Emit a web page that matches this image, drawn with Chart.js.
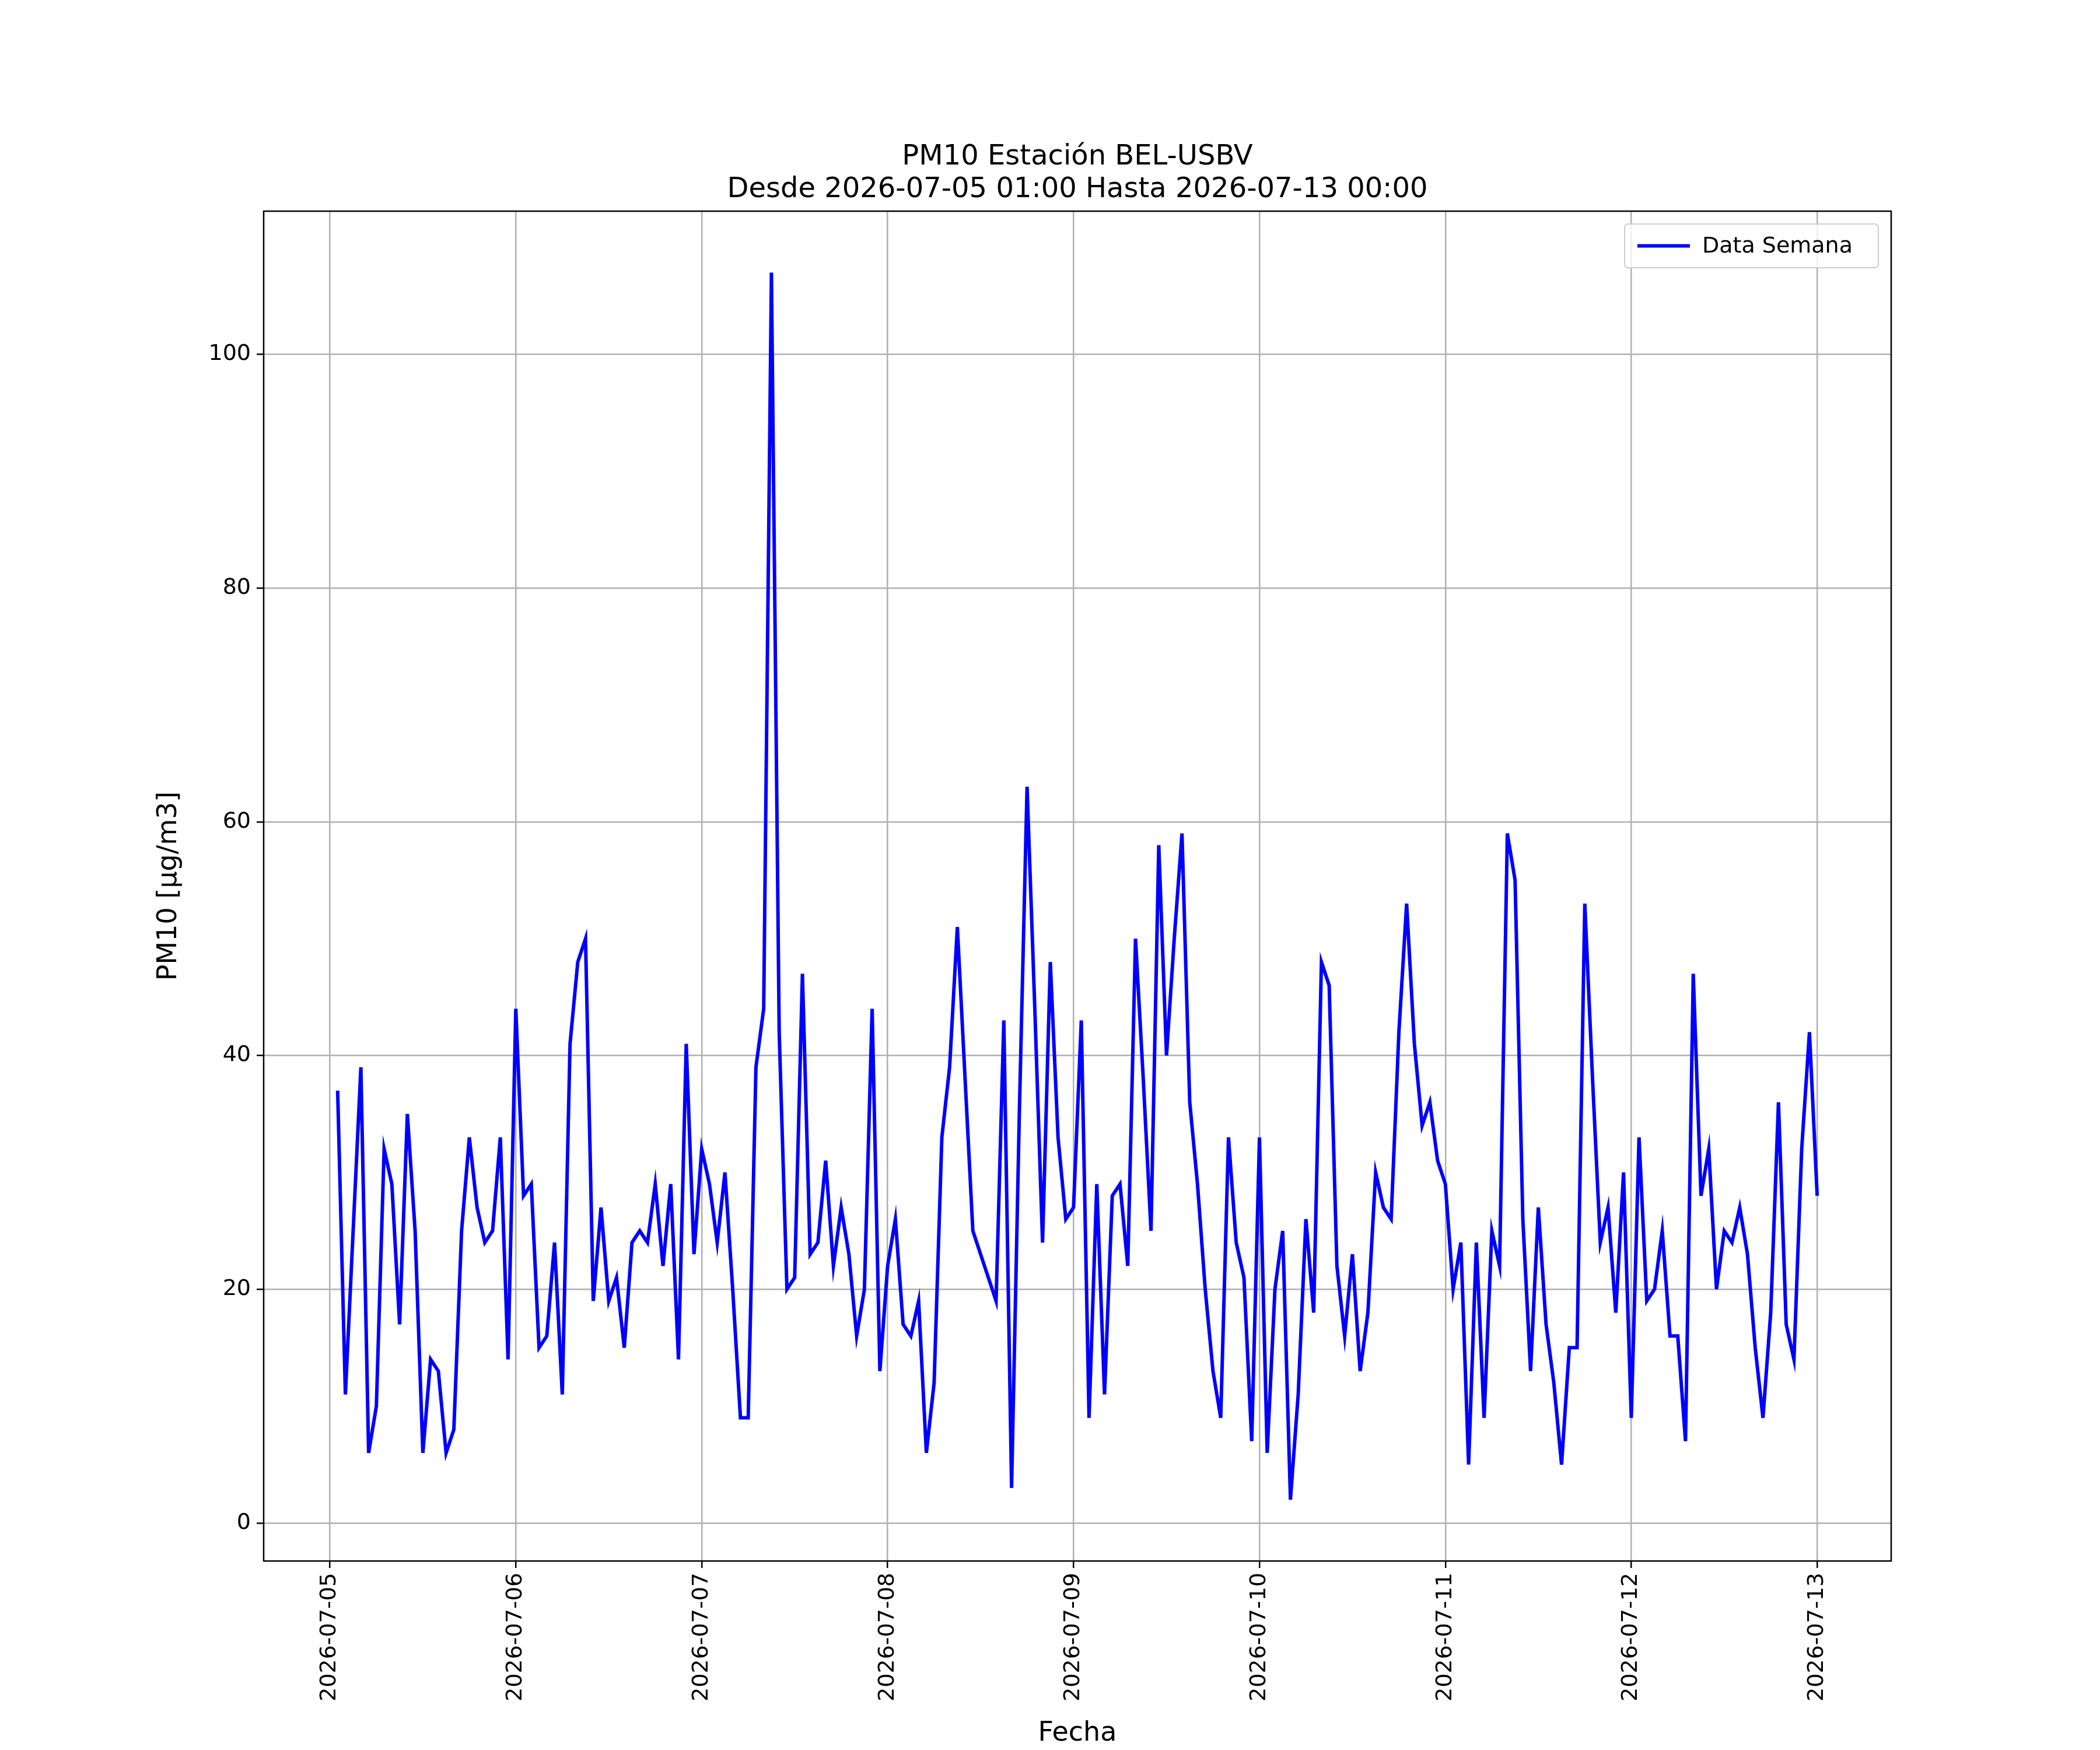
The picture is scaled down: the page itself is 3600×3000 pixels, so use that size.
<!DOCTYPE html>
<html>
<head>
<meta charset="utf-8">
<script src="https://cdn.jsdelivr.net/npm/chart.js@4"></script>
<style>
  body { margin: 0; background: #fff; }
  #wrap { width: 3600px; height: 3000px; }
</style>
</head>
<body>
<div id="wrap"><canvas id="pm10Chart" width="3600" height="3000"></canvas></div>
<script>
// --- datos: horas desde 2026-07-05 00:00 ---
const hours = [1,2,4,5,6,7,8,9,10,11,12,13,14,15,16,17,18,19,20,21,22,23,24,
  25,26,27,28,29,30,31,32,33,34,35,36,37,38,39,40,41,42,43,44,45,46,47,48,
  49,50,51,52,53,54,55,56,57,58,59,60,61,62,63,64,65,66,67,68,69,70,71,72,
  73,74,75,76,77,78,79,80,81,82,83,84,85,86,87,88,89,90,91,92,93,94,95,96,
  97,98,99,100,101,102,103,104,105,106,107,108,109,110,111,112,113,114,115,116,117,118,119,120,
  121,122,123,124,125,126,127,128,129,130,131,132,133,134,135,136,137,138,139,140,141,142,143,144,
  145,146,147,148,149,150,151,152,153,154,155,156,157,158,159,160,161,162,163,164,165,166,167,168,
  169,170,171,172,173,174,175,176,177,178,179,180,181,182,183,184,185,186,187,188,189,190,191,192];
const pm10 = [37,11,39,6,10,32,29,17,35,25,6,14,13,6,8,25,33,27,24,25,33,14,44,
  28,29,15,16,24,11,41,48,50,19,27,19,21,15,24,25,24,29,22,29,14,41,23,32,
  29,24,30,20,9,9,39,44,107,42,20,21,47,23,24,31,22,27,23,16,20,44,13,22,
  26,17,16,19,6,12,33,39,51,38,25,23,21,19,43,3,35,63,44,24,48,33,26,27,
  43,9,29,11,28,29,22,50,38,25,58,40,50,59,36,29,20,13,9,33,24,21,7,33,
  6,20,25,2,11,26,18,48,46,22,16,23,13,18,30,27,26,42,53,41,34,36,31,29,
  20,24,5,24,9,25,22,59,55,26,13,27,17,12,5,15,15,53,38,24,27,18,30,9,
  33,19,20,25,16,16,7,47,28,32,20,25,24,27,23,15,9,18,36,17,14,32,42,28];
const dayTicks = [0,24,48,72,96,120,144,168,192];
const dayLabels = ['2026-07-05','2026-07-06','2026-07-07','2026-07-08','2026-07-09',
  '2026-07-10','2026-07-11','2026-07-12','2026-07-13'];

const points = hours.map((h, i) => ({ x: h, y: pm10[i] }));
const FONT = 'DejaVu Sans';

// marco, título y leyenda al estilo matplotlib
const decor = {
  id: 'decor',
  afterDraw(chart) {
    const { ctx, chartArea: a } = chart;
    ctx.save();
    ctx.strokeStyle = '#000';
    ctx.lineWidth = 2.5;
    ctx.strokeRect(a.left, a.top, a.right - a.left, a.bottom - a.top);

    ctx.fillStyle = '#000';
    ctx.textAlign = 'center';
    ctx.textBaseline = 'alphabetic';
    ctx.font = `48px ${FONT}`;
    const cx = (a.left + a.right) / 2;
    ctx.fillText('PM10 Estación BEL-USBV', cx, 282);
    ctx.fillText('Desde 2026-07-05 01:00 Hasta 2026-07-13 00:00', cx, 338);

    // leyenda
    const lw = 435, lh = 75, lx = a.right - lw - 22, ly = a.top + 22;
    ctx.fillStyle = 'rgba(255,255,255,0.8)';
    ctx.strokeStyle = '#cccccc';
    ctx.lineWidth = 2;
    ctx.beginPath();
    ctx.roundRect(lx, ly, lw, lh, 6);
    ctx.fill();
    ctx.stroke();
    ctx.strokeStyle = '#0000ff';
    ctx.lineWidth = 6;
    ctx.beginPath();
    ctx.moveTo(lx + 22, ly + lh / 2);
    ctx.lineTo(lx + 112, ly + lh / 2);
    ctx.stroke();
    ctx.fillStyle = '#000';
    ctx.textAlign = 'left';
    ctx.textBaseline = 'middle';
    ctx.font = `38px ${FONT}`;
    ctx.fillText('Data Semana', lx + 133, ly + lh / 2 + 2);
    ctx.restore();
  }
};

new Chart(document.getElementById('pm10Chart'), {
  type: 'line',
  data: {
    datasets: [{
      label: 'Data Semana',
      data: points,
      borderColor: '#0000ff',
      borderWidth: 6,
      pointRadius: 0,
      tension: 0,
      fill: false
    }]
  },
  options: {
    responsive: false,
    animation: false,
    layout: { padding: { top: 362, right: 358, left: 262, bottom: 0 } },
    plugins: { legend: { display: false }, title: { display: false }, tooltip: { enabled: false } },
    scales: {
      x: {
        type: 'linear',
        min: -8.55,
        max: 201.55,
        afterBuildTicks: axis => { axis.ticks = dayTicks.map(v => ({ value: v })); },
        afterFit: axis => { axis.height = 3000 - 2684 + 8; },
        ticks: {
          minRotation: 90, maxRotation: 90,
          color: '#000',
          font: { family: FONT, size: 38 },
          padding: 8,
          callback: v => dayLabels[dayTicks.indexOf(v)] || ''
        },
        grid: { color: '#b0b0b0', lineWidth: 2.5, tickLength: 12, tickColor: '#000' },
        border: { display: false },
        title: { display: true, text: 'Fecha', color: '#000', font: { family: FONT, size: 46 }, padding: { top: 0, bottom: 0 } }
      },
      y: {
        min: -3.25,
        max: 112.25,
        afterBuildTicks: axis => { axis.ticks = [0,20,40,60,80,100].map(v => ({ value: v })); },
        afterFit: axis => { axis.width = 452 - 262; },
        ticks: { color: '#000', font: { family: FONT, size: 38 }, padding: 10 },
        grid: { color: '#b0b0b0', lineWidth: 2.5, tickLength: 12, tickColor: '#000' },
        border: { display: false },
        title: { display: true, text: 'PM10 [μg/m3]', color: '#000', font: { family: FONT, size: 46 }, padding: { top: 0, bottom: 0 } }
      }
    }
  },
  plugins: [decor]
});
</script>
</body>
</html>
